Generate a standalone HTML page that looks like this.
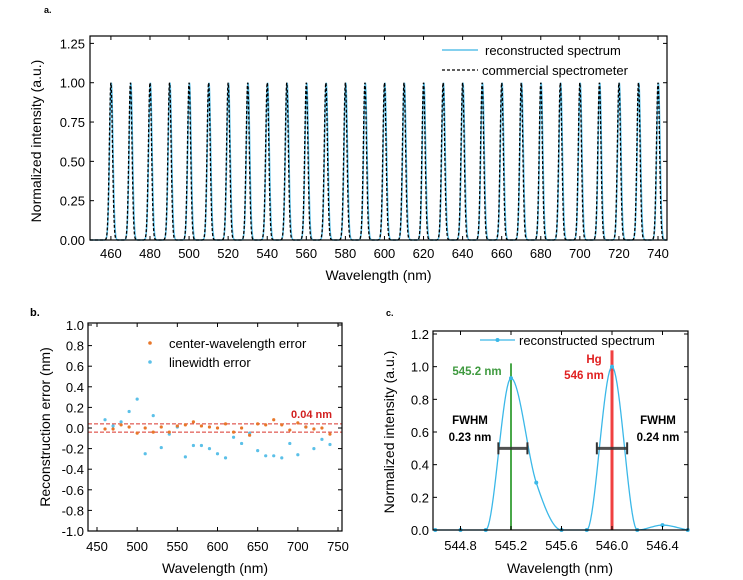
<!DOCTYPE html>
<html><head><meta charset="utf-8"><style>
body{margin:0;background:#fff;}
svg{display:block;font-family:"Liberation Sans",sans-serif;}
</style></head><body>
<svg id="fig" width="743" height="580" viewBox="0 0 743 580">
<g id="pa"></g>
<g id="pb"></g>
<g id="pc"></g>
</svg>
<script>
// ---------- Panel a data ----------
const aCenters = [460,470,480,490,500,510,520,530,540,550,560,570,580,590,600,610,620,630,640,650,660,670,680,690,700,710,720,730,740];
const aPeakHeights = [1,1,1,1,1,1,1,1,1,1,1,1,1,1,1,1,1,1,1,1,1,1,1,1,1,1,1,1,1];
const aYTicks = [0,0.25,0.5,0.75,1.0,1.25];
const aYTickLabels = ["0.00","0.25","0.50","0.75","1.00","1.25"];
const aXTicks = [460,480,500,520,540,560,580,600,620,640,660,680,700,720,740];
// ---------- Panel b data ----------
const bWavelengths = [460,470,480,490,500,510,520,530,540,550,560,570,580,590,600,610,620,630,640,650,660,670,680,690,700,710,720,730,740];
const bCenterErr = [-0.01,-0.01,0.03,0.01,-0.05,0,-0.04,0.01,-0.04,0.02,0.03,0.06,0.02,0.01,0,0.04,-0.04,0,-0.07,0.04,0.03,0.08,0.03,-0.02,0.05,0.01,-0.01,0,-0.06];
const bWidthErr = [0.08,0.02,0.06,0.16,0.28,-0.25,0.12,-0.19,-0.06,0.01,-0.28,-0.17,-0.17,-0.2,-0.25,-0.29,-0.09,-0.15,-0.05,-0.22,-0.27,-0.27,-0.29,-0.15,-0.26,0.01,-0.2,-0.11,-0.16];
const bYTicks = [-1,-0.8,-0.6,-0.4,-0.2,0,0.2,0.4,0.6,0.8,1.0];
const bYTickLabels = ["-1.0","-0.8","-0.6","-0.4","-0.2","0.0","0.2","0.4","0.6","0.8","1.0"];
const bXTicks = [450,500,550,600,650,700,750];
const bThreshold = [0.04,-0.04];
// ---------- Panel c data ----------
const cWl = [544.6,544.8,545.0,545.2,545.4,545.6,545.8,546.0,546.2,546.4,546.6];
const cIntensity = [0,0,0,0.93,0.29,0,0,1.0,0,0.03,0];
const cYTicks = [0,0.2,0.4,0.6,0.8,1.0,1.2];
const cYTickLabels = ["0.0","0.2","0.4","0.6","0.8","1.0","1.2"];
const cXTicks = [544.8,545.2,545.6,546.0,546.4];
const cXTickLabels = ["544.8","545.2","545.6","546.0","546.4"];

const NS="http://www.w3.org/2000/svg";
function mk(parent,tag,attrs,text){const e=document.createElementNS(NS,tag);for(const k in attrs)e.setAttribute(k,attrs[k]);if(text!==undefined)e.textContent=text;parent.appendChild(e);return e;}
function lin(d0,d1,r0,r1){return v=>r0+(v-d0)/(d1-d0)*(r1-r0);}

// ================= Panel a =================
(function(){
const g=document.getElementById('pa');
const L=90,R=667,T=36,B=240;
const x=lin(449.3,744.6,L,R), y=lin(0,1.297,B,T);
let t=mk(g,'text',{x:44,y:13,'font-size':9,'font-weight':'bold'},'a.');

function path(sig,shift){let d='';for(let w=449.3;w<=744.6;w+=0.1){let v=0;aCenters.forEach((c,i)=>{v+=aPeakHeights[i]*Math.exp(-Math.pow((w-c-shift)/sig,2)/2);});d+=(d?'L':'M')+x(w).toFixed(2)+','+y(v).toFixed(2);}return d;}
let p1=mk(g,'path',{d:path(0.85,0.2),fill:'none',stroke:'#5bc0e8','stroke-width':1.5});

let p2=mk(g,'path',{d:path(0.8,0),fill:'none',stroke:'#000','stroke-width':1.3,'stroke-dasharray':'3,2'});

let box=mk(g,'rect',{x:L,y:T,width:R-L,height:B-T,fill:'none',stroke:'#000','stroke-width':1.2});

aYTicks.forEach((v,i)=>{mk(g,'line',{x1:L,x2:L+4,y1:y(v),y2:y(v),stroke:'#000'});mk(g,'line',{x1:R,x2:R-4,y1:y(v),y2:y(v),stroke:'#000'});
 let tt=mk(g,'text',{x:L-5,y:y(v)+5,'font-size':13,'text-anchor':'end'},aYTickLabels[i]);
 });
aXTicks.forEach(v=>{mk(g,'line',{x1:x(v),x2:x(v),y1:B,y2:B-4,stroke:'#000'});mk(g,'line',{x1:x(v),x2:x(v),y1:T,y2:T+4,stroke:'#000'});
 let tt=mk(g,'text',{x:x(v),y:B+18,'font-size':13,'text-anchor':'middle'},String(v));
 });
let xl=mk(g,'text',{x:(L+R)/2,y:280,'font-size':14,'text-anchor':'middle'},'Wavelength (nm)');

let yl=mk(g,'text',{x:0,y:0,'font-size':14,'text-anchor':'middle',transform:'translate(41,141) rotate(-90)'},'Normalized intensity (a.u.)');

let lg=mk(g,'g',{});
mk(lg,'line',{x1:442,x2:478,y1:50,y2:50,stroke:'#5bc0e8','stroke-width':1.5});
mk(lg,'text',{x:485,y:55,'font-size':13},'reconstructed spectrum');
mk(lg,'line',{x1:442,x2:478,y1:70,y2:70,stroke:'#000','stroke-width':1.3,'stroke-dasharray':'3,2'});
mk(lg,'text',{x:482,y:75,'font-size':13},'commercial spectrometer');
})();

// ================= Panel b =================
(function(){
const g=document.getElementById('pb');
const L=88,R=342,T=323,B=531;
const x=lin(450,750,97,338), y=lin(-1,1,531,325);
let t=mk(g,'text',{x:30,y:316,'font-size':11,'font-weight':'bold'},'b.');

bThreshold.forEach(v=>{let l=mk(g,'line',{x1:L,x2:R,y1:y(v),y2:y(v),stroke:'#d9342b','stroke-width':0.9,'stroke-dasharray':'4,2'});
 });
let tl=mk(g,'text',{x:332,y:418,'font-size':11,'font-weight':'bold',fill:'#d21f1f','text-anchor':'end'},'0.04 nm');

bWavelengths.forEach((w,i)=>{let c=mk(g,'circle',{cx:x(w),cy:y(bWidthErr[i]),r:1.6,fill:'#5bc0e8'});
 });
bWavelengths.forEach((w,i)=>{let c=mk(g,'circle',{cx:x(w),cy:y(bCenterErr[i]),r:1.6,fill:'#e8772a'});
 });
let box=mk(g,'rect',{x:L,y:T,width:R-L,height:B-T,fill:'none',stroke:'#000','stroke-width':1.2});

bYTicks.forEach((v,i)=>{mk(g,'line',{x1:L,x2:L+4,y1:y(v),y2:y(v),stroke:'#000'});mk(g,'line',{x1:R,x2:R-4,y1:y(v),y2:y(v),stroke:'#000'});
 let tt=mk(g,'text',{x:L-4,y:y(v)+5,'font-size':13,'text-anchor':'end'},bYTickLabels[i]);
 });
bXTicks.forEach(v=>{mk(g,'line',{x1:x(v),x2:x(v),y1:B,y2:B-4,stroke:'#000'});mk(g,'line',{x1:x(v),x2:x(v),y1:T,y2:T+4,stroke:'#000'});
 let tt=mk(g,'text',{x:x(v),y:B+20,'font-size':13,'text-anchor':'middle'},String(v));
 });
let xl=mk(g,'text',{x:215,y:573,'font-size':14,'text-anchor':'middle'},'Wavelength (nm)');

let yl=mk(g,'text',{x:0,y:0,'font-size':14,'text-anchor':'middle',transform:'translate(50,427) rotate(-90)'},'Reconstruction error (nm)');

let lg=mk(g,'g',{});
mk(lg,'circle',{cx:150,cy:343,r:1.8,fill:'#e8772a'});
mk(lg,'text',{x:169,y:348,'font-size':13},'center-wavelength error');
mk(lg,'circle',{cx:150,cy:362,r:1.8,fill:'#5bc0e8'});
mk(lg,'text',{x:169,y:367,'font-size':13},'linewidth error');
})();

// ================= Panel c =================
(function(){
const g=document.getElementById('pc');
const L=433,R=688,T=331,B=530;
const x=lin(544.8,546.0,460.5,612), y=lin(0,1.2,530,334);
let t=mk(g,'text',{x:386,y:316,'font-size':9,'font-weight':'bold'},'c.');

const n=cWl.length, xs=cWl, ys=cIntensity, dx=[],m=[],s=[];
for(let i=0;i<n-1;i++){dx[i]=xs[i+1]-xs[i];s[i]=(ys[i+1]-ys[i])/dx[i];}
m[0]=s[0];m[n-1]=s[n-2];
for(let i=1;i<n-1;i++){m[i]=(s[i-1]*s[i]<=0)?0:(s[i-1]+s[i])/2;}
for(let i=0;i<n-1;i++){if(s[i]===0){m[i]=0;m[i+1]=0;continue;}const a=m[i]/s[i],b=m[i+1]/s[i],h=a*a+b*b;if(h>9){const tt=3/Math.sqrt(h);m[i]=tt*a*s[i];m[i+1]=tt*b*s[i];}}
let d='';
for(let i=0;i<n-1;i++){for(let k=0;k<=20;k++){const tt=k/20,h=dx[i];const h00=2*tt*tt*tt-3*tt*tt+1,h10=tt*tt*tt-2*tt*tt+tt,h01=-2*tt*tt*tt+3*tt*tt,h11=tt*tt*tt-tt*tt;
 const v=h00*ys[i]+h10*h*m[i]+h01*ys[i+1]+h11*h*m[i+1];const w=xs[i]+tt*h;d+=(d?'L':'M')+x(w).toFixed(2)+','+y(v).toFixed(2);}}
let gl=mk(g,'line',{x1:x(545.2),x2:x(545.2),y1:y(0),y2:y(1.02),stroke:'#4aa84a','stroke-width':2});

let rl=mk(g,'line',{x1:x(546.0),x2:x(546.0),y1:y(0),y2:y(1.1),stroke:'#f04040','stroke-width':3});

let p=mk(g,'path',{d:d,fill:'none',stroke:'#3bb8e8','stroke-width':1.3});

cWl.forEach((w,i)=>{let c=mk(g,'circle',{cx:x(w),cy:y(cIntensity[i]),r:2,fill:'#3bb8e8'});
 });
[[545.1,545.33],[545.88,546.12]].forEach(([a,b])=>{let fb=mk(g,'g',{});
 mk(fb,'line',{x1:x(a),x2:x(b),y1:y(0.5),y2:y(0.5),stroke:'#333','stroke-width':3,opacity:0.85});
 mk(fb,'line',{x1:x(a),x2:x(a),y1:y(0.5)-6,y2:y(0.5)+6,stroke:'#333','stroke-width':2});
 mk(fb,'line',{x1:x(b),x2:x(b),y1:y(0.5)-6,y2:y(0.5)+6,stroke:'#333','stroke-width':2});});
let box=mk(g,'rect',{x:L,y:T,width:R-L,height:B-T,fill:'none',stroke:'#000','stroke-width':1.2});

cYTicks.forEach((v,i)=>{mk(g,'line',{x1:L,x2:L+4,y1:y(v),y2:y(v),stroke:'#000'});mk(g,'line',{x1:R,x2:R-4,y1:y(v),y2:y(v),stroke:'#000'});
 let tt=mk(g,'text',{x:L-4,y:y(v)+5,'font-size':13,'text-anchor':'end'},cYTickLabels[i]);
 });
cXTicks.forEach((v,i)=>{mk(g,'line',{x1:x(v),x2:x(v),y1:B,y2:B-4,stroke:'#000'});mk(g,'line',{x1:x(v),x2:x(v),y1:T,y2:T+4,stroke:'#000'});
 let tt=mk(g,'text',{x:x(v),y:B+20,'font-size':13,'text-anchor':'middle'},cXTickLabels[i]);
 });
let xl=mk(g,'text',{x:560,y:573,'font-size':14,'text-anchor':'middle'},'Wavelength (nm)');

let yl=mk(g,'text',{x:0,y:0,'font-size':14,'text-anchor':'middle',transform:'translate(394,432) rotate(-90)'},'Normalized intensity (a.u.)');

const ann=[[477,375,'545.2 nm','#3f9a3f','middle'],[594,363,'Hg','#e02020','middle'],[584,379,'546 nm','#e02020','middle'],[470,424,'FWHM','#000','middle'],[470,441,'0.23 nm','#000','middle'],[658,424,'FWHM','#000','middle'],[658,441,'0.24 nm','#000','middle']];
ann.forEach(a=>{let tt=mk(g,'text',{x:a[0],y:a[1],'font-size':11.5,'font-weight':'bold',fill:a[3],'text-anchor':a[4]},a[2]);
 });
let lg=mk(g,'g',{});
mk(lg,'line',{x1:480,x2:515,y1:340,y2:340,stroke:'#3bb8e8','stroke-width':1.3});
mk(lg,'circle',{cx:497.5,cy:340,r:2,fill:'#3bb8e8'});
mk(lg,'text',{x:519,y:345,'font-size':13},'reconstructed spectrum');
})();
</script>
</body></html>
